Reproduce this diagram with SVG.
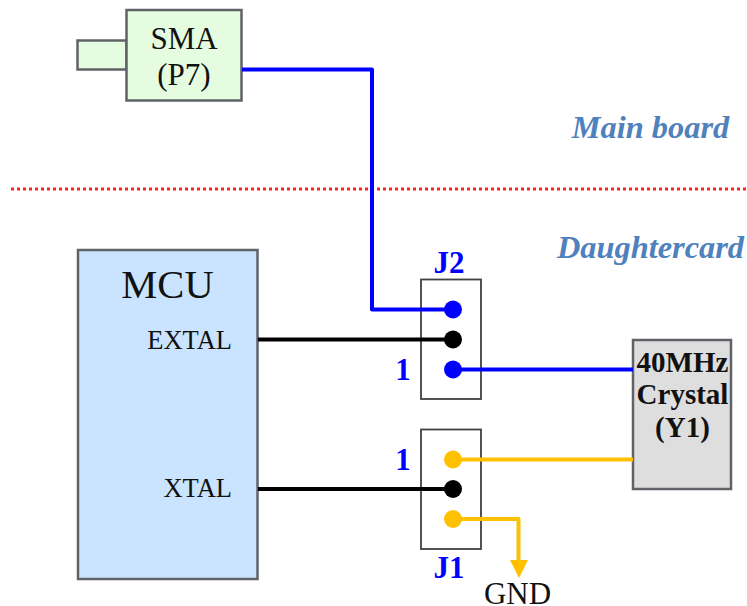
<svg xmlns="http://www.w3.org/2000/svg" width="747" height="606" viewBox="0 0 747 606">
<style>
text{font-family:"Liberation Serif","Times New Roman",serif;fill:#111}
.box{stroke:#5f6368;stroke-width:2.500}
.pin{fill:#fff;stroke:#404040;stroke-width:1.800}
.w{fill:none;stroke-width:4;stroke-linejoin:round}
.b{stroke:#0000ff}.k{stroke:#000}.y{stroke:#ffc000}
.bl{font-weight:bold;font-size:31px;fill:#0000ff}
.note{font-weight:bold;font-style:italic;font-size:32.400px;fill:#4f81bd}
.big{font-size:31px;text-anchor:middle}
.pinlabel{font-size:26.500px;text-anchor:end}
.xt{font-size:29px;font-weight:bold;text-anchor:middle}
</style>
<g id="boundary"><line x1="11" y1="189" x2="746" y2="189" stroke="#ff2020" stroke-width="3" stroke-dasharray="3 3"/></g>
<g id="sma">
<rect class="box" x="77.500" y="40.500" width="49" height="29" fill="#e5fce0"/>
<rect class="box" x="126.500" y="10" width="115" height="90.500" fill="#e5fce0"/>
<text class="big" x="184" y="49">SMA</text>
<text class="big" x="184" y="85">(P7)</text>
</g>
<g id="mcu">
<rect class="box" x="78" y="250" width="179.500" height="329" fill="#cae4ff"/>
<text x="167.500" y="298" font-size="40.500" text-anchor="middle">MCU</text>
<text class="pinlabel" x="232" y="349">EXTAL</text>
<text class="pinlabel" x="232" y="497">XTAL</text>
</g>
<g id="j2">
<rect class="pin" x="421" y="279.500" width="60" height="119.500"/>
<text class="bl" x="449" y="273" text-anchor="middle">J2</text>
<text class="bl" x="403" y="380" text-anchor="middle">1</text>
</g>
<g id="j1">
<rect class="pin" x="421" y="429.500" width="60" height="119.500"/>
<text class="bl" x="449" y="578" text-anchor="middle">J1</text>
<text class="bl" x="403" y="470" text-anchor="middle">1</text>
</g>
<g id="crystal">
<rect class="box" x="633" y="340" width="98" height="149" fill="#dedede"/>
<text class="xt" x="682.500" y="372">40MHz</text>
<text class="xt" x="682.500" y="404">Crystal</text>
<text class="xt" x="682.500" y="437">(Y1)</text>
</g>
<g id="gnd"><text class="big" x="517.500" y="604">GND</text></g>
<g id="main-board"><text class="note" x="650.500" y="138" text-anchor="middle">Main board</text></g>
<g id="daughtercard"><text class="note" x="650.500" y="258" text-anchor="middle">Daughtercard</text></g>
<g id="connectors">
<path class="w b" d="M242 69.500H372V309.500H453"/>
<path class="w k" d="M258 339.500H453"/>
<path class="w b" d="M453 369.500H633"/>
<path class="w y" d="M453 459.500H633"/>
<path class="w k" d="M258 489H453"/>
<path class="w y" d="M453 519H518.500V561"/>
<path d="M510 560H528L519 578Z" fill="#ffc000"/>
<circle cx="453" cy="309.500" r="9" fill="#0000ff"/>
<circle cx="453" cy="339.500" r="9" fill="#000"/>
<circle cx="453" cy="369.500" r="9" fill="#0000ff"/>
<circle cx="453" cy="459.500" r="9" fill="#ffc000"/>
<circle cx="453" cy="489" r="9" fill="#000"/>
<circle cx="453" cy="519" r="9" fill="#ffc000"/>
</g>
</svg>
